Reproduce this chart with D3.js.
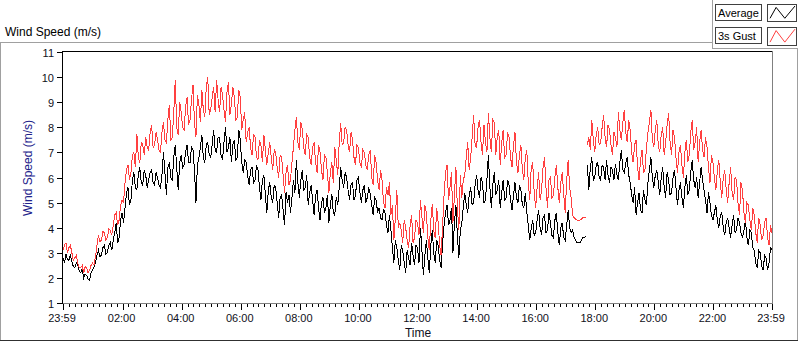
<!DOCTYPE html>
<html><head><meta charset="utf-8">
<script src="https://cdn.jsdelivr.net/npm/d3@7"></script>
<style>body{margin:0;background:#fff}svg{display:block;font-family:"Liberation Sans",Arial,sans-serif}</style>
</head><body><svg id="c" width="800" height="342"></svg>
<script>
// ---- data ----
const startMinute = -1;      // 23:59 of previous day
const stepMinutes = 3;
const gapBefore = 355;       // logging gap: line breaks before this sample
const gustValues = [
3.1,3.3,3.4,3.0,3.2,3.3,3.0,2.7,2.8,2.9,2.6,2.4,2.4,2.5,2.2,2.45,2.4,2.2,2.3,2.5,
2.6,2.5,2.85,3.3,3.7,3.45,3.5,3.85,3.8,3.5,3.6,3.95,3.9,3.7,4.1,4.5,4.6,4.1,4.3,4.9,
5.1,5.0,5.8,6.3,6.5,5.9,6.2,6.9,7.0,6.4,7.75,6.8,6.6,7.4,7.3,6.9,7.6,7.2,7.1,7.8,
8.1,7.2,7.3,7.8,7.5,7.1,7.0,7.8,8.2,7.5,7.4,8.3,8.9,7.5,7.6,8.6,9.9,8.0,7.7,9.0,
8.6,8.0,7.9,8.8,9.2,8.1,8.3,9.1,9.7,8.2,7.6,9.3,8.9,8.2,9.5,8.7,8.4,9.6,10.0,8.5,
8.7,9.2,9.6,8.6,9.9,9.1,8.6,9.6,9.3,8.7,8.2,9.4,9.8,8.5,8.9,9.6,9.2,8.3,8.4,9.5,
9.2,7.9,8.3,8.6,7.4,7.8,8.0,7.2,6.9,7.7,7.6,6.8,6.7,7.5,7.3,6.6,7.7,7.1,6.5,7.0,
7.4,6.8,6.3,7.1,7.0,6.4,6.0,6.9,6.8,6.1,5.4,6.2,6.5,5.7,5.9,6.6,7.2,7.9,8.4,7.4,
7.1,8.2,7.9,7.2,6.9,7.7,7.6,6.8,6.5,7.2,7.4,6.6,6.2,7.3,7.0,6.3,5.9,6.9,6.8,6.2,
5.4,6.2,6.6,5.8,7.2,6.7,6.1,7.4,8.15,7.3,7.4,8.0,7.9,7.3,7.0,7.8,7.5,6.8,6.5,7.3,
7.2,6.6,6.4,7.1,7.0,6.5,6.3,6.9,7.1,6.0,5.7,6.9,6.6,5.9,5.5,6.3,5.9,5.0,4.8,5.6,
5.3,5.8,4.5,4.9,3.5,4.4,5.5,4.0,4.2,3.9,3.4,4.3,4.0,3.5,3.2,4.1,4.5,3.4,3.6,4.3,
4.2,3.7,5.1,4.4,3.8,4.9,4.6,3.6,3.1,4.3,4.95,3.9,3.6,4.8,4.2,3.3,2.9,4.1,5.3,6.2,
6.5,5.1,5.6,6.2,4.2,5.3,6.4,4.8,3.9,6.1,5.2,5.9,6.1,6.8,7.4,6.3,6.8,7.6,8.5,7.3,
7.2,8.0,8.3,7.4,6.9,8.1,7.4,7.0,8.55,7.6,7.0,8.3,8.2,6.9,7.6,7.9,6.5,7.4,7.9,6.8,
6.9,7.8,7.6,6.8,6.4,7.3,7.8,6.6,6.2,6.9,7.3,6.3,5.9,6.8,7.1,5.8,5.1,6.4,6.6,5.4,
4.8,5.6,6.2,5.1,5.5,6.4,6.8,5.6,4.8,5.9,6.0,5.2,5.3,6.0,6.5,5.6,5.0,5.8,6.2,5.3,
4.6,5.9,6.7,5.6,5.2,4.5,4.4,4.35,4.3,4.3,4.3,4.35,4.4,4.4,4.4,7.3,7.6,7.1,8.3,7.5,
7.0,7.7,8.0,7.3,7.4,8.0,8.5,7.6,7.2,8.1,7.9,7.3,6.9,7.8,7.6,7.2,8.6,7.9,7.5,8.2,
8.7,7.8,7.4,8.3,7.9,7.0,6.6,7.3,7.5,6.4,5.9,6.7,7.1,6.2,6.3,7.2,7.8,8.2,8.7,7.5,
7.2,7.9,8.3,7.3,7.0,7.7,8.0,6.9,7.4,8.1,8.55,7.4,6.9,7.9,7.6,6.8,6.2,7.0,7.3,6.5,
6.0,7.0,7.5,6.6,6.9,7.8,8.3,7.1,7.4,8.0,6.6,7.4,7.9,7.1,6.8,7.6,7.2,6.4,5.8,6.9,
6.6,6.0,5.5,6.3,6.7,5.8,5.2,6.0,6.3,5.5,5.0,5.8,6.4,5.4,5.1,6.0,5.9,5.0,4.5,5.8,
5.5,4.6,4.2,5.0,4.9,4.3,3.9,4.8,4.5,3.8,3.4,4.4,4.1,3.5,3.7,4.2,4.4,3.6,3.3,4.1,
3.8];
const averageValues = [
2.8,2.6,2.95,2.75,2.7,2.9,2.65,2.45,2.4,2.6,2.5,2.3,2.2,2.35,2.0,2.15,2.1,1.95,1.9,2.2,
2.3,2.45,2.6,2.9,3.1,2.85,2.9,3.2,3.3,2.95,3.0,3.3,3.4,3.1,3.5,3.8,4.2,3.4,3.6,4.3,
4.6,4.2,4.8,5.4,5.6,4.9,5.1,5.9,6.2,5.6,5.5,6.1,6.4,5.8,5.7,6.3,6.1,5.6,5.9,6.2,
6.3,5.8,5.7,6.2,6.0,5.7,5.6,6.1,7.0,6.2,5.3,6.4,6.6,6.0,5.9,6.8,7.3,6.4,5.5,6.6,
6.9,6.4,6.5,7.0,7.3,6.6,6.6,7.2,7.1,6.3,5.0,6.5,6.8,7.2,7.7,6.8,6.6,7.3,7.4,6.9,
6.8,7.3,7.9,7.1,7.0,7.6,7.6,6.9,6.7,7.4,8.0,7.0,7.2,7.6,6.6,7.3,7.5,6.7,6.8,7.9,
7.5,6.6,6.2,6.7,6.6,6.1,5.7,6.3,6.4,5.8,5.9,6.5,6.3,5.6,5.1,5.9,6.1,5.3,4.6,5.5,
5.8,5.2,5.0,5.7,5.6,5.0,4.4,5.2,5.3,4.7,4.1,5.4,5.0,5.3,4.6,5.2,5.9,5.4,6.7,5.8,
5.2,5.9,6.3,5.5,5.6,6.1,4.9,5.4,5.7,5.1,4.5,5.3,5.5,4.8,4.3,5.0,5.2,4.6,4.8,5.3,
4.2,4.9,5.35,4.6,4.5,5.2,4.9,5.6,6.4,5.9,5.6,6.2,6.0,5.5,5.1,5.7,5.8,5.1,5.3,5.9,
6.0,5.4,5.0,5.5,5.7,5.0,5.2,5.6,5.35,4.9,4.5,5.2,5.1,4.6,4.8,4.4,4.3,4.75,4.6,4.1,
3.8,4.5,3.9,3.2,2.6,3.5,3.2,2.7,2.3,3.3,3.1,2.6,2.2,3.1,2.8,2.5,3.4,2.9,2.5,3.3,
3.2,2.6,4.0,3.1,2.1,2.9,3.5,2.8,2.2,3.3,3.9,3.0,2.6,3.5,3.3,2.7,2.4,3.4,4.1,4.6,
4.9,4.1,4.3,4.8,3.0,4.2,4.9,3.7,2.8,3.9,4.2,4.8,5.4,4.9,4.6,5.3,5.6,4.9,5.0,5.7,
6.1,5.5,5.2,6.0,5.8,5.0,5.1,5.9,6.9,5.6,4.8,5.7,6.2,5.3,5.5,5.9,4.8,5.4,5.9,5.1,
5.2,5.9,5.7,5.1,4.7,5.3,5.8,5.2,5.0,5.7,5.5,4.9,4.8,5.4,4.6,4.1,3.5,4.0,4.3,3.7,
3.8,4.3,4.7,4.0,3.7,4.4,4.5,3.8,3.9,4.6,4.2,3.7,3.6,4.3,4.6,3.8,3.3,4.0,4.2,3.6,
3.5,4.1,4.7,4.0,3.8,3.9,3.6,3.5,3.4,3.4,3.4,3.5,3.6,3.62,3.64,6.5,5.5,6.4,6.8,5.9,
6.0,6.5,6.6,6.0,5.9,6.5,6.4,5.9,6.7,6.1,5.8,6.4,6.3,5.9,6.55,6.1,5.9,6.6,7.1,6.3,
6.2,6.6,6.8,6.1,5.8,5.3,5.0,5.6,4.5,5.0,5.4,4.7,4.6,5.5,5.1,4.9,5.8,6.3,6.8,6.0,
5.6,6.1,6.3,5.8,5.3,6.0,6.4,5.6,5.2,6.2,5.9,5.3,5.4,6.0,6.3,5.6,4.9,5.5,5.8,5.2,
4.8,5.6,6.1,5.3,5.5,6.2,6.7,5.9,5.6,6.0,5.2,5.8,6.4,5.9,5.5,5.1,4.6,5.4,5.0,4.5,
4.3,4.6,4.9,4.3,4.0,4.5,4.6,4.0,3.7,4.2,4.4,4.0,3.6,4.1,4.5,3.8,3.9,4.4,4.2,3.8,
3.6,3.9,4.3,3.6,3.3,3.9,3.8,3.2,3.1,2.6,2.4,3.1,3.0,2.5,2.3,2.9,2.8,2.3,2.6,3.2,
3.1];
const seriesNames = ["Average", "3s Gust"];
const seriesColors = ["#000000", "#ff4040"];
const yTickValues = [1,2,3,4,5,6,7,8,9,10,11];
const xTickMinutes = [-1,120,240,360,480,600,720,840,960,1080,1200,1320,1439];
const xTickLabels = ["23:59","02:00","04:00","06:00","08:00","10:00","12:00","14:00","16:00","18:00","20:00","22:00","23:59"];
const minorStepMinutes = 12;
const swatchShape = [[0.07,0.84],[0.28,0.2],[0.58,0.84],[0.93,0.12]];

// ---- drawing ----
const svg = d3.select("#c");
const L = 63, R = 772, T = 52, B = 303;
const x = d3.scaleLinear().domain([-1, 1439]).range([L, R]);
const y = d3.scaleLinear().domain([1, 11]).range([B, T]);
const ln = (x1,y1,x2,y2,c) => svg.append("line").attr("x1",x1).attr("y1",y1).attr("x2",x2).attr("y2",y2)
  .attr("stroke",c).attr("stroke-width",1).attr("shape-rendering","crispEdges");

// outer frame
ln(0, 42.5, 712, 42.5, "#a0a0a0");
ln(0.5, 42, 0.5, 341, "#a0a0a0");
ln(797.5, 48, 797.5, 341, "#a0a0a0");
ln(0, 340.5, 798, 340.5, "#303030");
// legend panel edges
ln(712.5, 0, 712.5, 49, "#a0a0a0");
ln(712, 48.5, 798, 48.5, "#a0a0a0");

// chart title
svg.append("text").attr("x", 5).attr("y", 36).attr("font-size", 12).attr("fill", "#000").text("Wind Speed (m/s)");

// plot border
svg.append("rect").attr("x", 62.5).attr("y", 51.5).attr("width", R - 62).attr("height", B - 51)
  .attr("fill", "#fff").attr("stroke", "#808080").attr("shape-rendering", "crispEdges");
ln(62.5, 51.5, 62.5, B + 0.5, "#000");
ln(62, 51.5, R, 51.5, "#000");

// y axis ticks + labels
yTickValues.forEach(v => {
  const yy = Math.round(y(v)) + 0.5;
  ln(57, yy, 62, yy, "#000");
  svg.append("text").attr("x", 54).attr("y", Math.round(y(v)) + 4.5).attr("text-anchor", "end")
    .attr("font-size", 11).attr("fill", "#101020").text(v);
});
svg.append("text").attr("transform", "translate(32,168) rotate(-90)").attr("text-anchor", "middle")
  .attr("font-size", 12).attr("fill", "#22228a").text("Wind Speed (m/s)");

// x axis ticks
d3.range(0, 1440, minorStepMinutes).filter(m => xTickMinutes.indexOf(m) < 0).forEach(m => {
  const xx = Math.round(x(m)) + 0.5;
  ln(xx, 304, xx, 307, "#000");
});
xTickMinutes.forEach((m, i) => {
  const xx = Math.round(x(m)) + 0.5;
  ln(xx, 304, xx, 310, "#000");
  svg.append("text").attr("x", x(m) - 1).attr("y", 321.5).attr("text-anchor", "middle")
    .attr("font-size", 11).attr("fill", "#101020").text(xTickLabels[i]);
});
svg.append("text").attr("x", 418).attr("y", 337).attr("text-anchor", "middle")
  .attr("font-size", 12).attr("fill", "#101020").text("Time");

// series
svg.append("clipPath").attr("id", "pc").append("rect").attr("x", L).attr("y", T).attr("width", R - L + 1).attr("height", B - T);
const g = svg.append("g").attr("clip-path", "url(#pc)");
const line = d3.line().x(d => x(d[0])).y(d => y(d[1]));
[averageValues, gustValues].forEach((vals, si) => {
  const pts = vals.map((v, i) => [startMinute + i * stepMinutes, v]);
  [pts.slice(0, gapBefore), pts.slice(gapBefore)].forEach(seg => {
    g.append("path").attr("d", line(seg)).attr("fill", "none").attr("stroke", seriesColors[si])
      .attr("stroke-width", 1).attr("shape-rendering", "crispEdges");
  });
});

// legend
seriesNames.forEach((name, i) => {
  const top = i === 0 ? 4 : 27;
  const h = i === 0 ? 17 : 18;
  svg.append("rect").attr("x", 715.5).attr("y", top + 0.5).attr("width", 46).attr("height", 16)
    .attr("fill", "#fff").attr("stroke", "#404040").attr("shape-rendering", "crispEdges");
  svg.append("text").attr("x", 718).attr("y", top + 13).attr("font-size", 11).attr("fill", "#000").text(name);
  svg.append("rect").attr("x", 767.5).attr("y", top + 0.5).attr("width", 29).attr("height", h)
    .attr("fill", "#fff").attr("stroke", "#404040").attr("shape-rendering", "crispEdges");
  const sx = d3.scaleLinear().range([768, 797]);
  const sy = d3.scaleLinear().range([top, top + h]);
  svg.append("path").attr("d", d3.line().x(d => sx(d[0])).y(d => sy(d[1]))(swatchShape))
    .attr("fill", "none").attr("stroke", seriesColors[i]).attr("stroke-width", 1);
});
</script>
</body></html>
